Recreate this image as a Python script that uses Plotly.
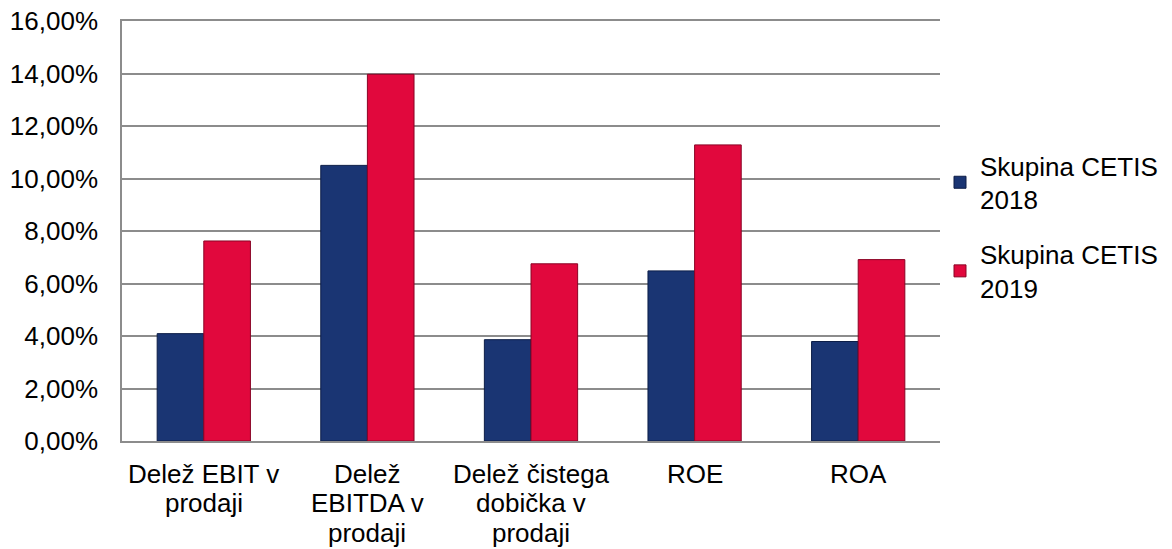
import plotly.graph_objects as go

categories = ["ebit", "ebitda", "cisti", "roe", "roa"]
category_lines = [
    ["Delež EBIT v", "prodaji"],
    ["Delež", "EBITDA v", "prodaji"],
    ["Delež čistega", "dobička v", "prodaji"],
    ["ROE"],
    ["ROA"],
]
series_names = ["Skupina CETIS<br>2018", "Skupina CETIS<br>2019"]
values_2018 = [4.09, 10.50, 3.86, 6.48, 3.79]
values_2019 = [7.62, 13.97, 6.75, 11.28, 6.91]
y_ticks = [0, 2, 4, 6, 8, 10, 12, 14, 16]
y_tick_text = [f"{v:.2f}".replace(".", ",") + "%" for v in y_ticks]

FONT = "Liberation Sans, Arial, sans-serif"
BLUE = "#1a3573"
RED = "#e1083d"
GRID = "#8c8c8c"

fig = go.Figure()
fig.add_trace(go.Bar(
    x=categories, y=values_2018, name=series_names[0], legendgroup="a",
    marker=dict(color=BLUE, line=dict(color="#0c1d47", width=1)),
))
fig.add_trace(go.Bar(
    x=categories, y=values_2019, name=series_names[1], legendgroup="b",
    marker=dict(color=RED, line=dict(color="#8a0425", width=1)),
))

annotations = []
shifts = [-33, -62, -92]
for cat, lines in zip(categories, category_lines):
    for i, line in enumerate(lines):
        annotations.append(dict(
            x=cat, xref="x", y=0, yref="paper", text=line, showarrow=False,
            yanchor="middle", xanchor="center", yshift=shifts[i],
            font=dict(family=FONT, size=26, color="black"),
        ))

fig.update_layout(
    width=1172, height=549,
    margin=dict(l=122, r=232, t=21, b=108, autoexpand=False),
    paper_bgcolor="white", plot_bgcolor="white",
    font=dict(family=FONT, size=26, color="black"),
    barmode="group", bargap=0.43, bargroupgap=0,
    showlegend=True,
    legend=dict(
        x=1.0, xanchor="left", y=0.712, yanchor="top",
        font=dict(family=FONT, size=26, color="black"),
        tracegroupgap=18, traceorder="grouped", bgcolor="rgba(0,0,0,0)",
        itemwidth=30,
    ),
    annotations=annotations,
)
fig.update_xaxes(
    showticklabels=False, showline=True, linecolor=GRID, linewidth=1.5,
    mirror=True, showgrid=False, ticks="",
)
fig.update_yaxes(
    range=[0, 16], tickmode="array", tickvals=y_ticks, ticktext=y_tick_text,
    showgrid=True, gridcolor=GRID, gridwidth=1.5,
    showline=True, linecolor=GRID, linewidth=1.5,
    zeroline=False, ticks="", ticklabelstandoff=17,
    ticklabeloverflow="allow",
    tickfont=dict(family=FONT, size=26, color="black"),
)

fig.write_html(
    "out.html",
    config={"displayModeBar": False},
    post_script="document.body.style.margin='0';document.body.style.padding='0';",
)
